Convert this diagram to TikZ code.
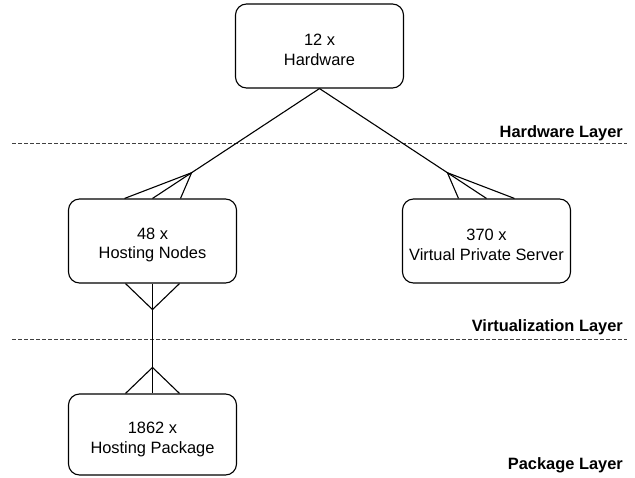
\documentclass[tikz,border=0pt]{standalone}
\usepackage{fontspec}
\setmainfont{Liberation Sans}
\usetikzlibrary{calc}
\begin{document}
\begin{tikzpicture}[x=1pt,y=-1pt,
  ent/.style={draw, line width=1.1pt, rounded corners=11pt, minimum width=168pt, minimum height=84pt, inner sep=0pt},
  enttext/.style={inner sep=0pt, align=center, font=\fontsize{16.4}{19.5}\selectfont},
  layerlbl/.style={anchor=base east, inner sep=0pt, font=\fontsize{16.4}{19.5}\selectfont\bfseries},
  sep/.style={dash pattern=on 3.5pt off 2.5pt, line width=1pt, black!75},
  conn/.style={line width=1.1pt}]
\useasboundingbox (0,0) rectangle (635,477);
% entities
\node[ent] (hw) at (319.5,46) {};
\node[ent] (hn) at (152.5,241) {};
\node[ent] (vps) at (486.5,241) {};
\node[ent, minimum height=81pt] (hp) at (152.5,434.5) {};
\node[enttext] (hwt) at ($(hw)+(0,4)$) {12 x\\Hardware};
\node[enttext] (hnt) at ($(hn)+(0,4)$) {48 x\\Hosting Nodes};
\node[enttext] (vpst) at ($(vps)+(0,4)$) {370 x\\Virtual Private Server};
\node[enttext] (hpt) at ($(hp)+(0,5)$) {1862 x\\Hosting Package};
% layer separators
\coordinate (s1l) at (12,143.5); \coordinate (s1r) at (627,143.5);
\coordinate (s2l) at (12,339.5); \coordinate (s2r) at (627,339.5);
\draw[sep] (s1l) -- (s1r);
\draw[sep] (s2l) -- (s2r);
\node[layerlbl] (l1) at (623,137) {Hardware Layer};
\node[layerlbl] (l2) at (623,331) {Virtualization Layer};
\node[layerlbl] (l3) at (623,469) {Package Layer};
% connectors
\draw[conn] (hw.south) -- (hn.north);
\draw[conn] (hw.south) -- (vps.north);
\draw[conn] (hn.south) -- (hp.north);
% crow's feet
\coordinate (a1) at ($(hn.north)!0.234!(hw.south)$);
\draw[conn] ($(hn.north)+(-28,0)$) -- (a1) -- ($(hn.north)+(28,0)$);
\coordinate (a2) at ($(vps.north)!0.234!(hw.south)$);
\draw[conn] ($(vps.north)+(-28,0)$) -- (a2) -- ($(vps.north)+(28,0)$);
\coordinate (a3) at ($(hn.south)+(0,26)$);
\draw[conn] ($(hn.south)+(-27,0)$) -- (a3) -- ($(hn.south)+(27,0)$);
\coordinate (a4) at ($(hp.north)+(0,-26)$);
\draw[conn] ($(hp.north)+(-27,0)$) -- (a4) -- ($(hp.north)+(27,0)$);
\end{tikzpicture}
\end{document}
